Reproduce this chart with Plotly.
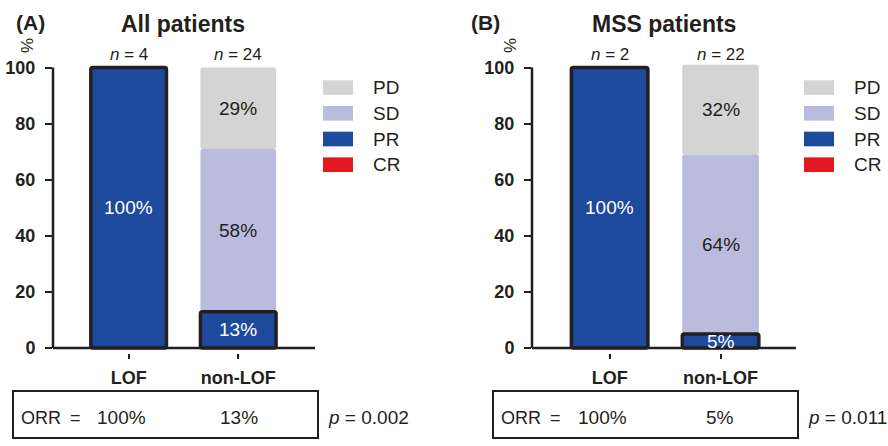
import numpy as np
import plotly.graph_objects as go

# ---- data -------------------------------------------------------------
groups = ["LOF", "non-LOF"]
stack_order = ["CR", "PR", "SD", "PD"]          # bottom to top
legend_order = ["PD", "SD", "PR", "CR"]         # top to bottom

all_titles = ("(A)", "All patients")
all_n = [4, 24]
all_cr = [0, 0]
all_pr = [100, 13]
all_sd = [0, 58]
all_pd = [0, 29]
all_p = "0.002"

mss_titles = ("(B)", "MSS patients")
mss_n = [2, 22]
mss_cr = [0, 0]
mss_pr = [100, 5]
mss_sd = [0, 64]
mss_pd = [0, 32]
mss_p = "0.011"

y_ticks = [0, 20, 40, 60, 80, 100]

colors = {"PD": "#d3d4d3", "SD": "#babbdd", "PR": "#1e4a9d", "CR": "#e3191f"}
INK = "#231f20"
FONT = "Arial, Liberation Sans, sans-serif"

W, H = 888, 446


def px(x):
    return x / W


def py(y):
    return 1 - y / H


def note(x, y, text, size, xanchor="center", **kw):
    """Paper-positioned text centred vertically on (x, y) given in pixels."""
    return dict(x=px(x), y=py(y), xref="paper", yref="paper",
                xanchor=xanchor, yanchor="middle", text=text, showarrow=False,
                font=dict(family=FONT, size=size, color=INK), **kw)


panels = [
    dict(titles=all_titles, n=all_n, p=all_p,
         vals={"CR": all_cr, "PR": all_pr, "SD": all_sd, "PD": all_pd},
         xdom=(53, 315), xrange=(-0.69, 1.70), xa="x", ya="y",
         tag_x=30, title_x=183, pct_x=27, leg_x=323,
         box=(13, 318), orr_x=19, eq_x=75, val_x=(121, 239), p_x=326),
    dict(titles=mss_titles, n=mss_n, p=mss_p,
         vals={"CR": mss_cr, "PR": mss_pr, "SD": mss_sd, "PD": mss_pd},
         xdom=(532, 796), xrange=(-0.70, 1.68), xa="x2", ya="y2",
         tag_x=486, title_x=664, pct_x=510, leg_x=804,
         box=(493, 798), orr_x=499, eq_x=555, val_x=(602, 720), p_x=806),
]

fig = go.Figure()
annotations = []
shapes = []

ydom = (py(356.6), py(59.3))

for pnl in panels:
    xa, ya = pnl["xa"], pnl["ya"]
    vals = pnl["vals"]
    bases = {}
    running = np.zeros(len(groups))
    for r in stack_order:
        bases[r] = running.copy()
        running = running + np.array(vals[r])

    # outlined PR segment drawn last so its frame sits on top
    for r in ["CR", "PD", "SD", "PR"]:
        outlined = r == "PR"
        fig.add_trace(go.Bar(
            x=groups, y=vals[r], base=bases[r], name=r,
            width=0.69, xaxis=xa, yaxis=ya, showlegend=False,
            marker=dict(color=colors[r], cornerradius=2,
                        line=dict(color=INK, width=3.5 if outlined else 0)),
            hoverinfo="skip",
        ))

    # segment labels
    for r in stack_order:
        for i, g in enumerate(groups):
            v = vals[r][i]
            if v <= 0:
                continue
            annotations.append(dict(
                x=g, y=bases[r][i] + v / 2, xref=xa, yref=ya,
                xanchor="center", yanchor="middle",
                text=f"{v}%", showarrow=False,
                font=dict(family=FONT, size=19,
                          color="white" if r == "PR" else INK)))

    # n above each bar
    for i, g in enumerate(groups):
        annotations.append(dict(
            x=g, y=100, xref=xa, yref=ya, xanchor="center", yanchor="bottom",
            yshift=2, text=f"<i>n</i> = {pnl['n'][i]}", showarrow=False,
            font=dict(family=FONT, size=17, color=INK)))

    # axis lines
    shapes.append(dict(type="line", xref=f"{xa} domain", yref=ya,
                       x0=0, x1=0, y0=0, y1=100,
                       line=dict(color=INK, width=2.5)))
    shapes.append(dict(type="line", xref=f"{xa} domain", yref=ya,
                       x0=0, x1=1, y0=0, y1=0,
                       line=dict(color=INK, width=2.5)))

    # panel tag, title, y unit
    annotations.append(note(pnl["tag_x"], 19, f"<b>{pnl['titles'][0]}</b>", 21))
    annotations.append(note(pnl["title_x"], 20, f"<b>{pnl['titles'][1]}</b>", 23))
    annotations.append(note(pnl["pct_x"], 43, "%", 17, textangle=-90))

    # legend swatches
    for j, r in enumerate(legend_order):
        top = 78 + j * 26.3
        shapes.append(dict(type="rect", xref="paper", yref="paper",
                           x0=px(pnl["leg_x"]), x1=px(pnl["leg_x"] + 30),
                           y0=py(top + 15), y1=py(top),
                           fillcolor=colors[r], line=dict(width=0)))
        annotations.append(note(pnl["leg_x"] + 48, top + 7.5, r, 19, xanchor="left"))

    # ORR box
    b0, b1 = pnl["box"]
    shapes.append(dict(type="rect", xref="paper", yref="paper",
                       x0=px(b0), x1=px(b1), y0=py(444), y1=py(396),
                       line=dict(color=INK, width=2)))
    annotations.append(note(pnl["orr_x"], 423, "ORR", 18, xanchor="left"))
    annotations.append(note(pnl["eq_x"], 423, "=", 18))
    for i, g in enumerate(groups):
        orr = vals["CR"][i] + vals["PR"][i]
        annotations.append(note(pnl["val_x"][i], 423, f"{orr}%", 19))
    annotations.append(note(pnl["p_x"], 423, f"<i>p</i> = {pnl['p']}", 19,
                            xanchor="left"))

axis_common = dict(showgrid=False, zeroline=False, showline=False,
                   ticks="outside", tickcolor=INK, tickwidth=2)

layout = dict(
    width=W, height=H, margin=dict(l=0, r=0, t=0, b=0),
    paper_bgcolor="white", plot_bgcolor="white",
    barmode="overlay", showlegend=False,
    annotations=annotations, shapes=shapes,
    font=dict(family=FONT, color=INK),
)
for pnl in panels:
    xkey = "xaxis" if pnl["xa"] == "x" else "xaxis2"
    ykey = "yaxis" if pnl["ya"] == "y" else "yaxis2"
    layout[xkey] = dict(axis_common, domain=[px(pnl["xdom"][0]), px(pnl["xdom"][1])],
                        range=list(pnl["xrange"]), type="category",
                        anchor=pnl["ya"], ticklen=5, ticklabelstandoff=4,
                        tickfont=dict(family=FONT, size=18, color=INK, weight="bold"))
    layout[ykey] = dict(axis_common, domain=list(ydom), range=[-1.6, 102],
                        anchor=pnl["xa"], tickvals=y_ticks, ticklen=7,
                        ticklabelstandoff=6,
                        tickfont=dict(family=FONT, size=18, color=INK, weight="bold"))

fig.update_layout(**layout)
fig.write_html("out.html")
